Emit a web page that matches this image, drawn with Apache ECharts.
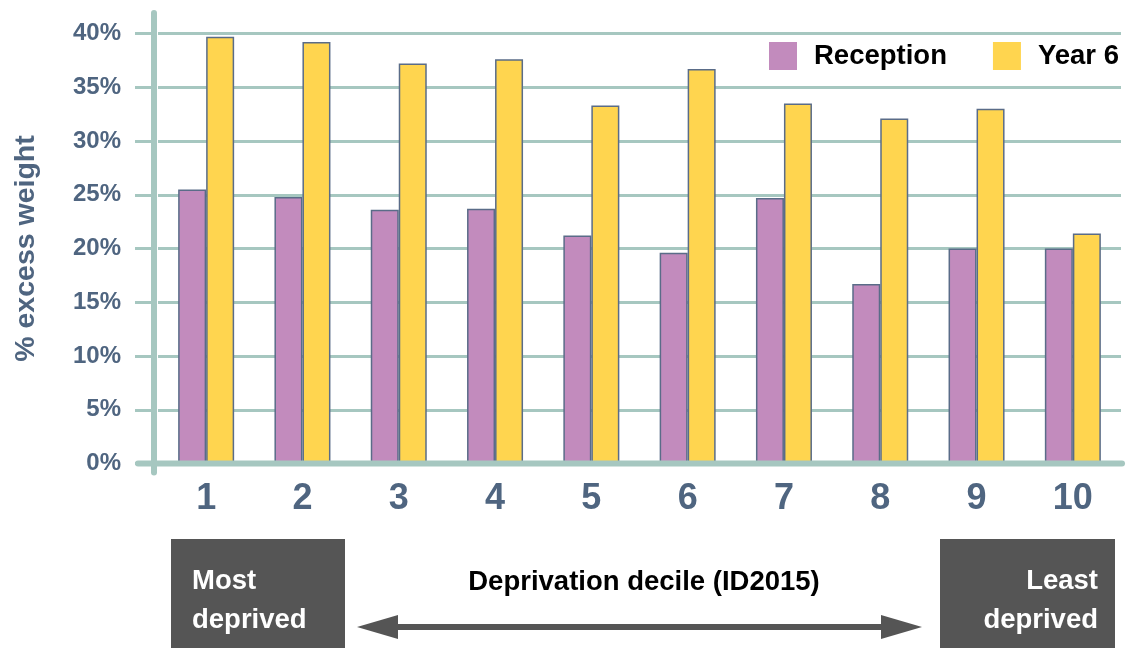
<!DOCTYPE html>
<html>
<head>
<meta charset="utf-8">
<script src="https://cdn.jsdelivr.net/npm/echarts@6/dist/echarts.min.js"></script>
<style>html,body{margin:0;padding:0;background:#fff}#c{width:1133px;height:648px}</style>
</head>
<body>
<div id="c"></div>
<script>
var categories = ['1','2','3','4','5','6','7','8','9','10'];
var reception = [25.5, 24.8, 23.6, 23.7, 21.2, 19.6, 24.7, 16.7, 20.0, 20.0];
var year6 = [39.7, 39.2, 37.2, 37.6, 33.3, 36.7, 33.5, 32.1, 33.0, 21.4];
var yTicks = [0, 5, 10, 15, 20, 25, 30, 35, 40];

var FONT = '"Liberation Sans", Arial, sans-serif';
var AXIS = '#a6c7c0';
var SLATE = '#4f6580';
var BORDER = '#5a6c88';
var BOX = '#555555';

var chart = echarts.init(document.getElementById('c'), null, {renderer: 'canvas'});
var GL = 158, GR = 12, GT = 33.5, GB = 184.5;

var option = {
  animation: false,
  backgroundColor: '#ffffff',
  textStyle: {fontFamily: FONT},
  grid: {left: GL, right: GR, top: GT, bottom: GB, containLabel: false, outerBoundsMode: 'none'},
  legend: {
    left: 769, top: 42, padding: 0,
    itemWidth: 28, itemHeight: 28, itemGap: 46,
    icon: 'rect',
    itemStyle: {borderWidth: 0},
    textStyle: {fontFamily: FONT, fontSize: 27.5, fontWeight: 'bold', color: '#000', padding: [8, 0, 0, 12]},
    data: ['Reception', 'Year 6']
  },
  xAxis: {
    type: 'category',
    data: categories,
    axisLine: {show: false},
    axisTick: {show: false},
    axisLabel: {fontFamily: FONT, fontSize: 36, fontWeight: 'bold', color: SLATE, margin: 18}
  },
  yAxis: {
    type: 'value',
    min: yTicks[0], max: yTicks[yTicks.length - 1], interval: 5,
    offset: 4,
    name: '% excess weight',
    nameLocation: 'middle',
    nameRotate: 90,
    nameGap: 113,
    nameTextStyle: {fontFamily: FONT, fontSize: 28.5, fontWeight: 'bold', color: SLATE},
    axisLine: {show: false},
    axisTick: {show: true, length: 19, lineStyle: {color: AXIS, width: 3}},
    axisLabel: {fontFamily: FONT, fontSize: 24, fontWeight: 'bold', color: SLATE, margin: 33,
      formatter: function (v) { return v + '%'; }},
    splitLine: {show: true, lineStyle: {color: AXIS, width: 3}}
  },
  series: [
    {name: 'Reception', type: 'bar', data: reception, barWidth: 28, barGap: '0%',
     itemStyle: {color: '#c28bbd', borderColor: BORDER, borderWidth: 1.5}},
    {name: 'Year 6', type: 'bar', data: year6, barWidth: 28, barGap: '0%',
     itemStyle: {color: '#ffd54f', borderColor: BORDER, borderWidth: 1.5}}
  ]
};
chart.setOption(option);

var y0 = chart.convertToPixel({yAxisIndex: 0}, 0);
var yTop = chart.convertToPixel({yAxisIndex: 0}, 42);
var axX = GL - 4;

chart.setOption({
  graphic: [
    {type: 'line', z: 10, shape: {x1: axX, y1: yTop + 1, x2: axX, y2: y0 + 9}, style: {stroke: AXIS, lineWidth: 6, lineCap: 'round'}},
    {type: 'line', z: 10, shape: {x1: 138, y1: y0, x2: 1122, y2: y0}, style: {stroke: AXIS, lineWidth: 6, lineCap: 'round'}},
    {type: 'rect', shape: {x: 171, y: 539, width: 174, height: 110}, style: {fill: BOX}},
    {type: 'rect', shape: {x: 940, y: 539, width: 175, height: 110}, style: {fill: BOX}},
    {type: 'text', x: 192, y: 562, style: {text: 'Most\ndeprived', font: 'bold 27.5px ' + FONT, fill: '#fff', lineHeight: 39, align: 'left', verticalAlign: 'top'}},
    {type: 'text', x: 1098, y: 562, style: {text: 'Least\ndeprived', font: 'bold 27.5px ' + FONT, fill: '#fff', lineHeight: 39, align: 'right', verticalAlign: 'top'}},
    {type: 'text', x: 644, y: 582, style: {text: 'Deprivation decile (ID2015)', font: 'bold 27.5px ' + FONT, fill: '#000', align: 'center', verticalAlign: 'middle'}},
    {type: 'rect', shape: {x: 395, y: 624, width: 488, height: 6}, style: {fill: BOX}},
    {type: 'polygon', shape: {points: [[357, 627], [398, 615], [398, 639]]}, style: {fill: BOX}},
    {type: 'polygon', shape: {points: [[922, 627], [881, 615], [881, 639]]}, style: {fill: BOX}}
  ]
});
</script>
</body>
</html>
